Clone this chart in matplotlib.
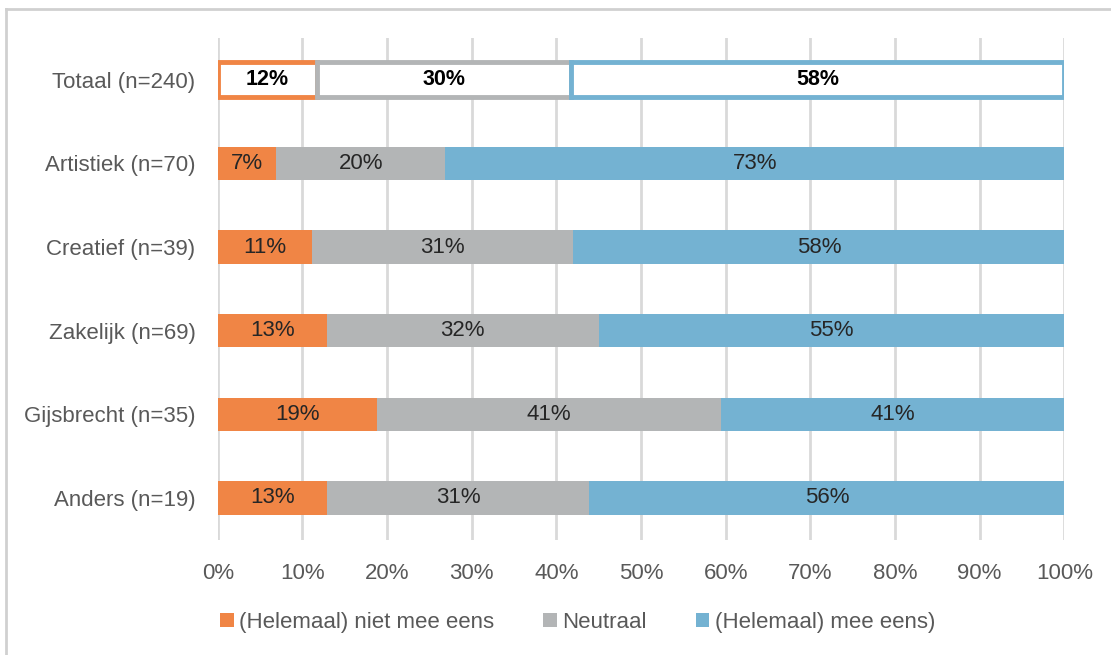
import numpy as np
import matplotlib
matplotlib.use('Agg')
import matplotlib.pyplot as plt
from matplotlib.lines import Line2D
from matplotlib.patches import Patch

plt.rcParams['font.family'] = ['Liberation Sans', 'DejaVu Sans']

# -------- Data ------------------
groups = ['Totaal (n=240)', 'Artistiek (n=70)', 'Creatief (n=39)',
          'Zakelijk (n=69)', 'Gijsbrecht (n=35)', 'Anders (n=19)']
niet_eens = [11.7, 6.9, 11.1, 12.9, 18.8, 12.9]
neutraal = [30.0, 20.0, 30.9, 32.1, 40.6, 31.0]
mee_eens = [58.3, 73.1, 58.0, 55.0, 40.6, 56.1]
series_names = ['(Helemaal) niet mee eens', 'Neutraal', '(Helemaal) mee eens)']
colors = ['#F08545', '#B3B5B6', '#74B2D2']

# -------- Plot ------------------
fig = plt.figure(figsize=(11.11, 6.55), dpi=100)
ax = fig.add_axes([0.196, 0.176, 0.762, 0.766])

y = np.arange(len(groups))
left = np.zeros(len(groups))
for vals, c in zip([niet_eens, neutraal, mee_eens], colors):
    vals = np.array(vals)
    for i in range(len(groups)):
        if i == 0:
            # Totaal: outlined bar, bold label
            ax.barh(y[i], vals[i], left=left[i], height=0.42, color='white',
                    edgecolor=c, linewidth=3.5, zorder=3)
            ax.text(left[i] + vals[i] / 2, y[i], f'{vals[i]:.0f}%', ha='center',
                    va='center', fontsize=15.5, fontweight='bold', color='black', zorder=4)
        else:
            ax.barh(y[i], vals[i], left=left[i], height=0.4, color=c, zorder=3)
            ax.text(left[i] + vals[i] / 2, y[i], f'{vals[i]:.0f}%', ha='center',
                    va='center', fontsize=16, color='#262626', zorder=4)
    left += vals

ax.set_xlim(0, 100)
ax.set_ylim(5.5, -0.5)
ax.set_xticks(np.arange(0, 101, 10))
ax.set_xticklabels([f'{v}%' for v in range(0, 101, 10)])
ax.set_yticks(y)
ax.set_yticklabels(groups)
ax.tick_params(axis='x', length=0, pad=17, labelsize=16, colors='#595959')
ax.tick_params(axis='y', length=0, pad=16, labelsize=16, colors='#595959')
ax.grid(axis='x', color='#D9D9D9', linewidth=2, zorder=0)
for s in ax.spines.values():
    s.set_visible(False)

handles = [Patch(facecolor=c, edgecolor='none') for c in colors]
fig.legend(handles, series_names, loc='center', bbox_to_anchor=(0.52, 0.05),
           ncol=3, frameon=False, fontsize=16, handlelength=0.6, handleheight=0.6,
           handletextpad=0.25, columnspacing=2.2, labelcolor='#595959')

# chart frame (left and top edges visible)
fig.add_artist(Line2D([0.0055, 0.0055], [0.0, 0.986], color='#D0D0D0', linewidth=2,
                      transform=fig.transFigure))
fig.add_artist(Line2D([0.0055, 1.0], [0.986, 0.986], color='#D0D0D0', linewidth=2,
                      transform=fig.transFigure))

plt.savefig('out.png', dpi=100)
